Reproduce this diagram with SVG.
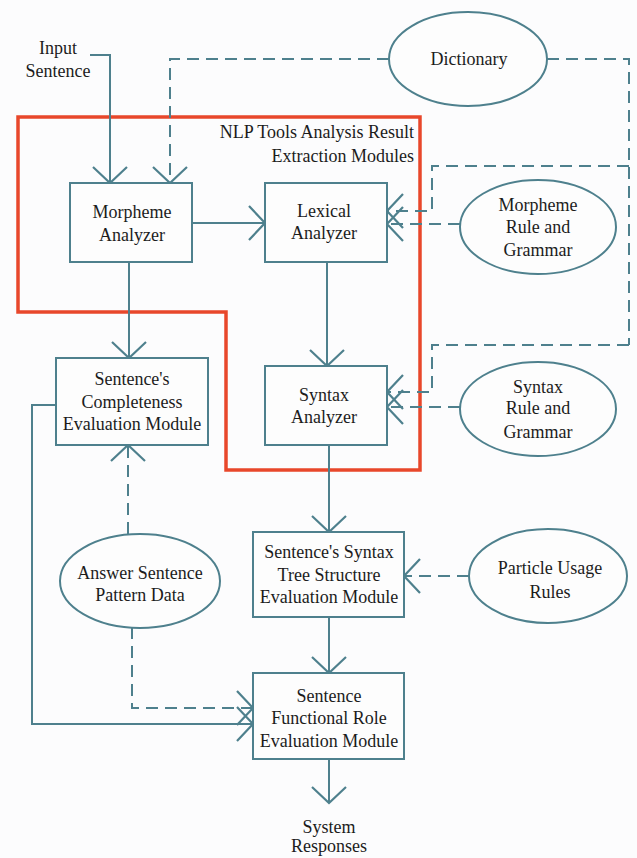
<svg xmlns="http://www.w3.org/2000/svg" width="637" height="858" viewBox="0 0 637 858" font-family="Liberation Serif, Times New Roman, Times, DejaVu Serif, serif">
<defs>
<style>
.bg{fill:#fcfcfd}
.box{fill:#fdfdfd;stroke:#4e808d;stroke-width:2}
.ell{fill:#fdfdfd;stroke:#4e808d;stroke-width:2}
.ln{fill:none;stroke:#4e808d;stroke-width:2}
.dl{fill:none;stroke:#4e808d;stroke-width:2;stroke-dasharray:12 7}
.hd{fill:none;stroke:#4e808d;stroke-width:2.2}
.red{fill:none;stroke:#e8472b;stroke-width:3.5}
.t{font-family:"Liberation Serif",serif;font-size:18px;fill:#1c1c1c;text-anchor:middle}
.r{text-anchor:end}
</style>
<path id="head" class="hd" d="M-16,-17 L0,0 L-16,17"/>
</defs>
<rect class="bg" x="0" y="0" width="637" height="858"/>

<g id="region">
<path class="red" d="M18,117 H420 V470 H226 V312 H18 Z"/>
<text class="t r" x="414" y="138">NLP Tools Analysis Result</text>
<text class="t r" x="414" y="162">Extraction Modules</text>
</g>

<g id="connectors">
<path class="ln" d="M90,55 H110 V183"/>
<use href="#head" transform="translate(110,183) rotate(90)"/>
<path class="dl" d="M389,59 H170 V183"/>
<use href="#head" transform="translate(170,183) rotate(90)"/>
<path class="dl" d="M547,59 H629 V345"/>
<path class="dl" d="M629,345 H432 V392 H387"/>
<use href="#head" transform="translate(387,392) rotate(180)"/>
<path class="dl" d="M629,166 H432 V211 H387"/>
<use href="#head" transform="translate(387,211) rotate(180)"/>
<path class="dl" d="M460,224 H387"/>
<use href="#head" transform="translate(387,224) rotate(180)"/>
<path class="dl" d="M460,407 H387"/>
<use href="#head" transform="translate(387,407) rotate(180)"/>
<path class="ln" d="M192,223 H265"/>
<use href="#head" transform="translate(265,223)"/>
<path class="ln" d="M129,262 V358"/>
<use href="#head" transform="translate(129,358) rotate(90)"/>
<path class="ln" d="M327,262 V366"/>
<use href="#head" transform="translate(327,366) rotate(90)"/>
<path class="ln" d="M329,445 V532"/>
<use href="#head" transform="translate(329,532) rotate(90)"/>
<path class="dl" d="M469,576 H404"/>
<use href="#head" transform="translate(404,576) rotate(180)"/>
<path class="ln" d="M329,617 V673"/>
<use href="#head" transform="translate(329,673) rotate(90)"/>
<path class="ln" d="M329,759 V803"/>
<use href="#head" transform="translate(329,803) rotate(90)"/>
<path class="ln" d="M56,405 H32 V724 H253"/>
<use href="#head" transform="translate(253,724)"/>
<path class="dl" d="M128,534 V445"/>
<use href="#head" transform="translate(128,445) rotate(-90)"/>
<path class="dl" d="M132,627 V708 H253"/>
<use href="#head" transform="translate(253,708)"/>
</g>

<g id="input">
<text class="t" x="58" y="54">Input</text>
<text class="t" x="58" y="77">Sentence</text>
</g>

<g id="dictionary">
<ellipse class="ell" cx="468" cy="59" rx="79" ry="47"/>
<text class="t" x="469" y="65">Dictionary</text>
</g>

<g id="morpheme">
<rect class="box" x="70" y="183" width="122" height="79"/>
<text class="t" x="132" y="218">Morpheme</text>
<text class="t" x="132" y="241">Analyzer</text>
</g>

<g id="lexical">
<rect class="box" x="265" y="183" width="122" height="79"/>
<text class="t" x="324" y="217">Lexical</text>
<text class="t" x="324" y="239">Analyzer</text>
</g>

<g id="morpheme-rule">
<ellipse class="ell" cx="538" cy="227" rx="78" ry="47"/>
<text class="t" x="538" y="211">Morpheme</text>
<text class="t" x="538" y="233">Rule and</text>
<text class="t" x="538" y="256">Grammar</text>
</g>

<g id="completeness">
<rect class="box" x="56" y="358" width="152" height="87"/>
<text class="t" x="132" y="385">Sentence's</text>
<text class="t" x="132" y="408">Completeness</text>
<text class="t" x="132" y="430">Evaluation Module</text>
</g>

<g id="syntax">
<rect class="box" x="265" y="366" width="122" height="79"/>
<text class="t" x="324" y="401">Syntax</text>
<text class="t" x="324" y="423">Analyzer</text>
</g>

<g id="syntax-rule">
<ellipse class="ell" cx="538" cy="409" rx="78" ry="47"/>
<text class="t" x="538" y="393">Syntax</text>
<text class="t" x="538" y="414">Rule and</text>
<text class="t" x="538" y="438">Grammar</text>
</g>

<g id="tree">
<rect class="box" x="253" y="532" width="151" height="85"/>
<text class="t" x="329" y="558">Sentence's Syntax</text>
<text class="t" x="329" y="581">Tree Structure</text>
<text class="t" x="329" y="603">Evaluation Module</text>
</g>

<g id="particle">
<ellipse class="ell" cx="548" cy="576" rx="79" ry="47"/>
<text class="t" x="550" y="574">Particle Usage</text>
<text class="t" x="550" y="598">Rules</text>
</g>

<g id="answer">
<ellipse class="ell" cx="140" cy="581" rx="80" ry="47"/>
<text class="t" x="140" y="579">Answer Sentence</text>
<text class="t" x="140" y="601">Pattern Data</text>
</g>

<g id="functional">
<rect class="box" x="253" y="673" width="151" height="86"/>
<text class="t" x="329" y="702">Sentence</text>
<text class="t" x="329" y="724">Functional Role</text>
<text class="t" x="329" y="747">Evaluation Module</text>
</g>

<g id="responses">
<text class="t" x="329" y="833">System</text>
<text class="t" x="329" y="852">Responses</text>
</g>
</svg>
